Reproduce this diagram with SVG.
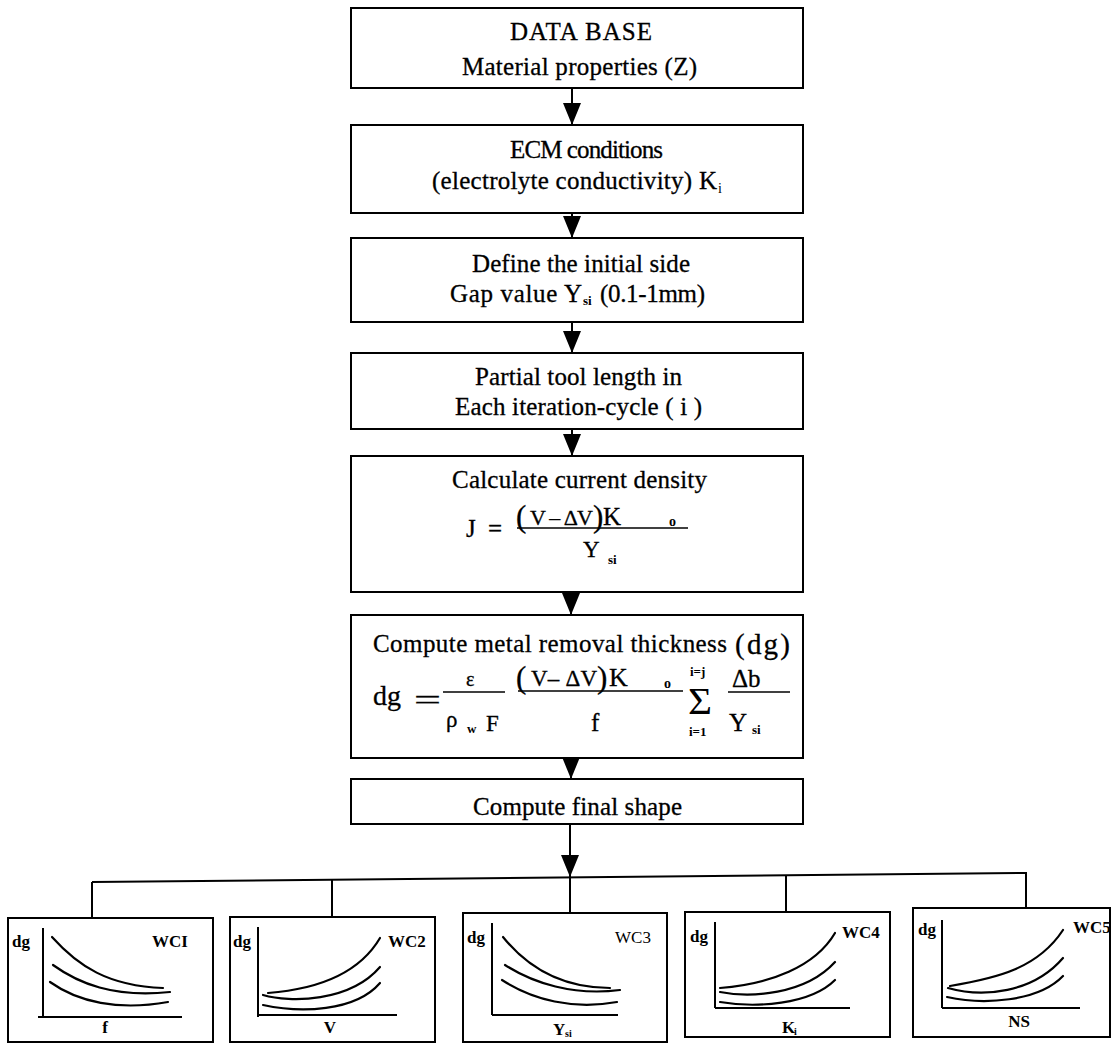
<svg xmlns="http://www.w3.org/2000/svg" width="1115" height="1044" viewBox="0 0 1115 1044">
  <style>
    .box { fill: #fff; stroke: #000; stroke-width: 2; }
    .t { font-family: "Liberation Serif", "Times New Roman", serif; font-size: 25px; fill: #000; stroke: #000; stroke-width: 0.3; }
    .sub { font-family: "Liberation Serif", "Times New Roman", serif; font-size: 13px; font-weight: bold; fill: #000; }
    .lab { font-family: "Liberation Serif", "Times New Roman", serif; font-size: 17px; font-weight: bold; fill: #000; }
    .bar { stroke: #000; stroke-width: 1.6; fill: none; }
    .axis { stroke: #000; stroke-width: 2; fill: none; }
    .crv { stroke: #000; stroke-width: 2.2; fill: none; stroke-linecap: round; }
    .wire { stroke: #000; stroke-width: 2; fill: none; }
  </style>
  <defs>
    <marker id="head" markerUnits="userSpaceOnUse" markerWidth="22" markerHeight="18" refX="22" refY="9" orient="auto">
      <path d="M0,0 L22,9 L0,18 z" fill="#000"/>
    </marker>
  </defs>

  <rect width="1115" height="1044" fill="#fff"/>

  <!-- connectors -->
  <g id="connectors">
    <line class="wire" x1="572" y1="88" x2="572" y2="125" marker-end="url(#head)"/>
    <line class="wire" x1="572" y1="213" x2="572" y2="238" marker-end="url(#head)"/>
    <line class="wire" x1="572" y1="322" x2="572" y2="353" marker-end="url(#head)"/>
    <line class="wire" x1="572" y1="429" x2="572" y2="456" marker-end="url(#head)"/>
    <line class="wire" x1="571" y1="592" x2="571" y2="615" marker-end="url(#head)"/>
    <line class="wire" x1="571" y1="758" x2="571" y2="779" marker-end="url(#head)"/>
    <line class="wire" x1="570" y1="824" x2="570" y2="877" marker-end="url(#head)"/>
    <!-- distribution bus -->
    <path class="wire" d="M92,882 L1027,873"/>
    <path class="wire" d="M92,882 V918"/>
    <path class="wire" d="M332,880 V917"/>
    <path class="wire" d="M570,877 V913"/>
    <path class="wire" d="M786,875 V912"/>
    <path class="wire" d="M1026,873 V908"/>
  </g>

  <!-- flow steps -->
  <g id="database">
    <rect class="box" x="351" y="8" width="452" height="80"/>
    <text class="t" x="510" y="40" textLength="142">DATA BASE</text>
    <text class="t" x="462" y="75" textLength="235">Material properties (Z)</text>
  </g>

  <g id="ecm-conditions">
    <rect class="box" x="351" y="125" width="452" height="88"/>
    <text class="t" x="510" y="158" textLength="153">ECM conditions</text>
    <text class="t" x="432" y="189" textLength="285">(electrolyte conductivity) K</text>
    <text class="sub" x="718" y="193" style="font-size:14px;font-weight:normal">i</text>
  </g>

  <g id="initial-gap">
    <rect class="box" x="351" y="238" width="452" height="84"/>
    <text class="t" x="472" y="272" textLength="218">Define the initial side</text>
    <text class="t" x="450" y="302" textLength="132">Gap value Y</text>
    <text class="sub" x="583" y="305">si</text>
    <text class="t" x="600" y="302" textLength="105">(0.1-1mm)</text>
  </g>

  <g id="tool-length">
    <rect class="box" x="351" y="353" width="452" height="76"/>
    <text class="t" x="475" y="385" textLength="207">Partial tool length in</text>
    <text class="t" x="455" y="415" textLength="247">Each iteration-cycle ( i )</text>
  </g>

  <g id="current-density">
    <rect class="box" x="351" y="456" width="452" height="136"/>
    <text class="t" x="452" y="488" textLength="255">Calculate current density</text>
    <text class="t" x="466" y="537">J</text>
    <text class="t" x="488" y="537">=</text>
    <text class="t" x="516" y="527" style="font-size:31px">(</text>
    <text class="t" x="530" y="525" style="font-size:22px" textLength="63">V – ΔV</text>
    <text class="t" x="593" y="527" style="font-size:31px">)</text>
    <text class="t" x="603" y="525">K</text>
    <text class="sub" x="669" y="526" style="font-size:14px">o</text>
    <path class="bar" d="M517,528 H688"/>
    <text class="t" x="583" y="557" style="font-size:23px">Y</text>
    <text class="sub" x="608" y="564">si</text>
  </g>

  <g id="removal-thickness">
    <rect class="box" x="351" y="615" width="452" height="143"/>
    <text class="t" x="373" y="652" textLength="354">Compute metal removal thickness</text>
    <text class="t" x="735" y="654" style="font-size:29px" textLength="55">(dg)</text>
    <text class="t" x="373" y="705" style="font-size:28px">dg</text>
    <text class="t" x="414" y="709" style="font-size:27px" textLength="27" lengthAdjust="spacingAndGlyphs">=</text>
    <!-- epsilon / (rho_w F) -->
    <text class="t" x="466" y="686" style="font-size:20px">ε</text>
    <path class="bar" d="M443,692 H505"/>
    <text class="t" x="446" y="727" style="font-size:23px">ρ</text>
    <text class="sub" x="467" y="733">w</text>
    <text class="t" x="486" y="731" style="font-size:23px">F</text>
    <!-- (V - dV) K_o / f -->
    <text class="t" x="516" y="688" style="font-size:31px">(</text>
    <text class="t" x="531" y="686" style="font-size:23px" textLength="66">V– ΔV</text>
    <text class="t" x="597" y="688" style="font-size:31px">)</text>
    <text class="t" x="609" y="686" style="font-size:26px">K</text>
    <text class="sub" x="664" y="688" style="font-size:14px">o</text>
    <path class="bar" d="M518,691 H683"/>
    <text class="t" x="591" y="731">f</text>
    <!-- summation -->
    <text class="sub" x="690" y="676">i=j</text>
    <text class="t" x="688" y="714" style="font-size:38px;stroke-width:0" textLength="24" lengthAdjust="spacingAndGlyphs">Σ</text>
    <text class="sub" x="689" y="736">i=1</text>
    <!-- delta b / Y_si -->
    <text class="t" x="732" y="687">Δb</text>
    <path class="bar" d="M728,692 H790"/>
    <text class="t" x="729" y="731">Y</text>
    <text class="sub" x="752" y="734">si</text>
  </g>

  <g id="final-shape">
    <rect class="box" x="351" y="779" width="452" height="45"/>
    <text class="t" x="473" y="815" textLength="209">Compute final shape</text>
  </g>

  <!-- working-condition charts -->
  <g id="wc1" transform="translate(8,918)">
    <rect class="box" width="205" height="124"/>
    <text class="lab" x="4" y="29">dg</text>
    <path class="axis" d="M35,10 V99 M30,99 H174"/>
    <text class="lab" x="144" y="29">WCI</text>
    <text class="lab" x="97" y="115" text-anchor="middle">f</text>
    <path class="crv" d="M44,19 C70,48 100,68 155,70"/>
    <path class="crv" d="M45,47 C70,65 105,80 162,74"/>
    <path class="crv" d="M42,64 C70,84 110,93 160,84"/>
  </g>

  <g id="wc2" transform="translate(230,917)">
    <rect class="box" width="205" height="125"/>
    <text class="lab" x="3" y="30">dg</text>
    <path class="axis" d="M28,10 V100 M28,98 H167"/>
    <text class="lab" x="158" y="30">WC2</text>
    <text class="lab" x="100" y="116" text-anchor="middle">V</text>
    <path class="crv" d="M38,76 C90,72 130,55 150,21"/>
    <path class="crv" d="M33,78 C60,86 120,85 150,50"/>
    <path class="crv" d="M33,88 C70,96 125,95 150,66"/>
  </g>

  <g id="wc3" transform="translate(463,913)">
    <rect class="box" width="204" height="129"/>
    <text class="lab" x="4" y="30">dg</text>
    <path class="axis" d="M29,10 V102 M29,102 H155"/>
    <text class="lab" x="152" y="30" style="font-weight:normal">WC3</text>
    <text class="lab" x="90" y="122">Y</text>
    <text class="sub" x="102" y="124" style="font-size:10px">si</text>
    <path class="crv" d="M40,24 C65,55 100,75 147,75"/>
    <path class="crv" d="M42,52 C70,70 110,83 157,77"/>
    <path class="crv" d="M39,67 C70,87 110,97 154,89"/>
  </g>

  <g id="wc4" transform="translate(685,912)">
    <rect class="box" width="205" height="125"/>
    <text class="lab" x="5" y="30">dg</text>
    <path class="axis" d="M30,10 V96 M30,96 H165"/>
    <text class="lab" x="157" y="26">WC4</text>
    <text class="lab" x="97" y="121">K</text>
    <text class="sub" x="109" y="123" style="font-size:10px">i</text>
    <path class="crv" d="M35,76 C85,72 130,55 150,21"/>
    <path class="crv" d="M35,80 C65,86 120,83 150,50"/>
    <path class="crv" d="M35,90 C70,96 125,93 150,68"/>
  </g>

  <g id="wc5" transform="translate(913,908)">
    <rect class="box" width="197" height="129"/>
    <text class="lab" x="5" y="27">dg</text>
    <path class="axis" d="M29,12 V100 M29,100 H167"/>
    <text class="lab" x="160" y="25">WC5</text>
    <text class="lab" x="106" y="119" text-anchor="middle">NS</text>
    <path class="crv" d="M37,78 C85,70 125,60 150,22"/>
    <path class="crv" d="M35,80 C70,90 120,85 150,50"/>
    <path class="crv" d="M34,89 C70,97 125,94 150,68"/>
  </g>
</svg>
